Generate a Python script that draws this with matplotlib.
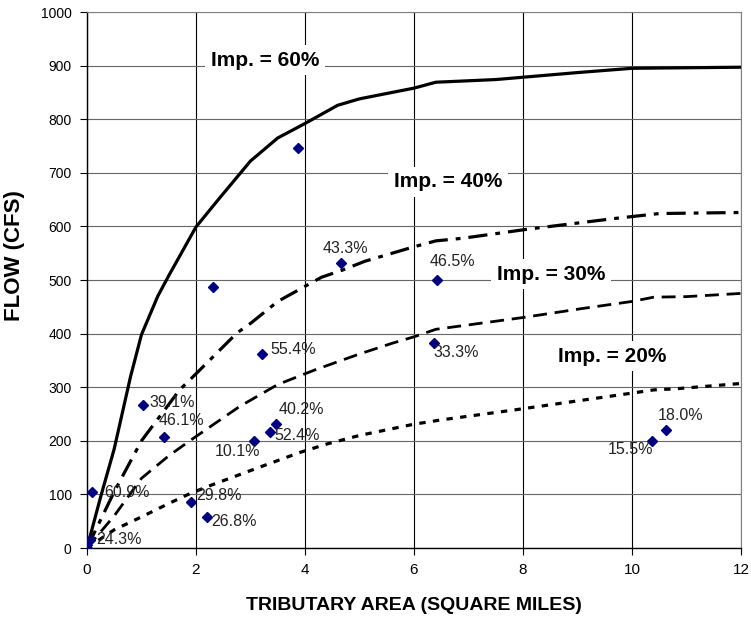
import matplotlib
matplotlib.use("Agg")
import matplotlib.pyplot as plt

# design curves (flow vs tributary area) for each imperviousness
x60 = [0, 0.25, 0.5, 0.8, 1.0, 1.3, 1.5, 2.0, 2.45, 3.0, 3.5, 4.0, 4.6, 5.0, 6.0, 6.4, 7.5, 9.0, 10.0, 11.0, 12.0]
y60 = [0, 95, 185, 320, 398, 470, 508, 599, 655, 722, 765, 792, 826, 838, 858, 869, 874, 887, 895, 896, 897]

x40 = [0, 0.5, 1.0, 1.7, 2.0, 2.75, 3.0, 3.5, 4.3, 4.7, 5.1, 6.0, 6.4, 6.9, 8.1, 9.7, 10.5, 12.0]
y40 = [0, 105, 200, 295, 325, 401, 419, 460, 505, 519, 535, 562, 573, 578, 595, 615, 624, 626]

x30 = [0, 0.5, 1.0, 1.5, 1.9, 2.8, 3.5, 4.2, 5.0, 5.6, 6.0, 6.4, 7.2, 8.0, 9.1, 10.0, 10.4, 11.0, 12.0]
y30 = [0, 60, 130, 172, 201, 264, 305, 333, 362, 382, 394, 408, 419, 430, 447, 460, 468, 469, 475]

x20 = [0, 0.5, 1.0, 1.5, 1.9, 2.3, 3.2, 3.9, 4.4, 5.0, 6.0, 6.5, 7.8, 10.0, 10.4, 10.8, 12.0]
y20 = [0, 34, 58, 83, 102, 118, 152, 178, 194, 210, 231, 239, 257, 289, 295, 297, 307]

# observed points
pt_x = [0.0, 0.06, 0.09, 1.02, 1.41, 3.06, 3.36, 3.46, 1.91, 2.20, 3.22, 3.87, 2.31, 4.66, 6.42, 6.36, 10.37, 10.63]
pt_y = [0, 15, 104, 267, 208, 200, 217, 231, 85, 57, 362, 746, 487, 531, 500, 382, 200, 221]
pt_lab = ["", "24.3%", "60.9%", "39.1%", "46.1%", "10.1%", "52.4%", "40.2%", "29.8%",
          "26.8%", "55.4%", "", "", "43.3%", "46.5%", "33.3%", "15.5%", "18.0%"]
# label offsets in points (dx, dy, ha, va)
lab_off = [None, (4, 0, "left", "center"), (9, 0, "left", "center"), (5, 2, "left", "center"),
           (-4, 6, "left", "bottom"), (5, -2, "right", "top"), (3, -3, "left", "center"),
           (2, 5, "left", "bottom"), (4, 5, "left", "center"), (3, -3, "left", "center"),
           (6, 3, "left", "center"), None, None, (3, 5, "center", "bottom"),
           (-5, 8, "left", "bottom"), (0, -1, "left", "top"), (1, -1, "right", "top"),
           (-6, 5, "left", "bottom")]

curve_lab = ["Imp. = 60%", "Imp. = 40%", "Imp. = 30%", "Imp. = 20%"]
curve_lab_x = [3.27, 6.62, 8.51, 9.63]
curve_lab_y = [910, 683, 511, 358]

plt.rcParams["font.family"] = ["Liberation Sans", "DejaVu Sans"]

fig = plt.figure(figsize=(7.51, 6.26), dpi=100)
ax = fig.add_axes([0.1158, 0.1246, 0.8709, 0.8562])

ax.plot(x60, y60, color="black", lw=2.3, solid_joinstyle="round")
ax.plot(x40, y40, color="black", lw=2.3, ls=(0, (6, 2.5, 1.5, 2.5)))
ax.plot(x30, y30, color="black", lw=2.0, ls=(0, (5, 2.8)))
ax.plot(x20, y20, color="black", lw=2.3, ls=(0, (2.0, 2.3)))

ax.plot(pt_x, pt_y, ls="none", marker="D", markersize=5, color="#000080", zorder=5)

for x, y, t, off in zip(pt_x, pt_y, pt_lab, lab_off):
    if not t:
        continue
    dx, dy, ha, va = off
    ax.annotate(t, (x, y), xytext=(dx, dy), textcoords="offset points",
                ha=ha, va=va, fontsize=11.5, color="#222222", zorder=6)

for t, x, y in zip(curve_lab, curve_lab_x, curve_lab_y):
    ax.text(x, y, t, ha="center", va="center", fontsize=15, fontweight="bold", zorder=7,
            bbox=dict(facecolor="white", edgecolor="none", pad=4))

ax.set_xlim(0, 12)
ax.set_ylim(0, 1000)
ax.set_xticks(range(0, 13, 2))
ax.set_yticks(range(0, 1001, 100))
ax.grid(True, axis="x", color="black", lw=0.8)
ax.grid(True, axis="y", color="#666666", lw=0.8)
ax.set_axisbelow(True)

for s in ["top", "right"]:
    ax.spines[s].set_color("#808080")
    ax.spines[s].set_linewidth(0.8)
for s in ["left", "bottom"]:
    ax.spines[s].set_color("black")
    ax.spines[s].set_linewidth(1.0)

ax.tick_params(axis="y", labelsize=10, length=5, width=0.8, pad=6)
ax.tick_params(axis="x", labelsize=11, length=5, width=0.8, pad=6)

ax.set_ylabel("FLOW (CFS)", fontsize=16, fontweight="bold")
ax.yaxis.set_label_coords(-0.095, 0.545)
ax.set_xlabel("TRIBUTARY AREA (SQUARE MILES)", fontsize=14, fontweight="bold",
              labelpad=14)

fig.savefig("out.png", dpi=100)
